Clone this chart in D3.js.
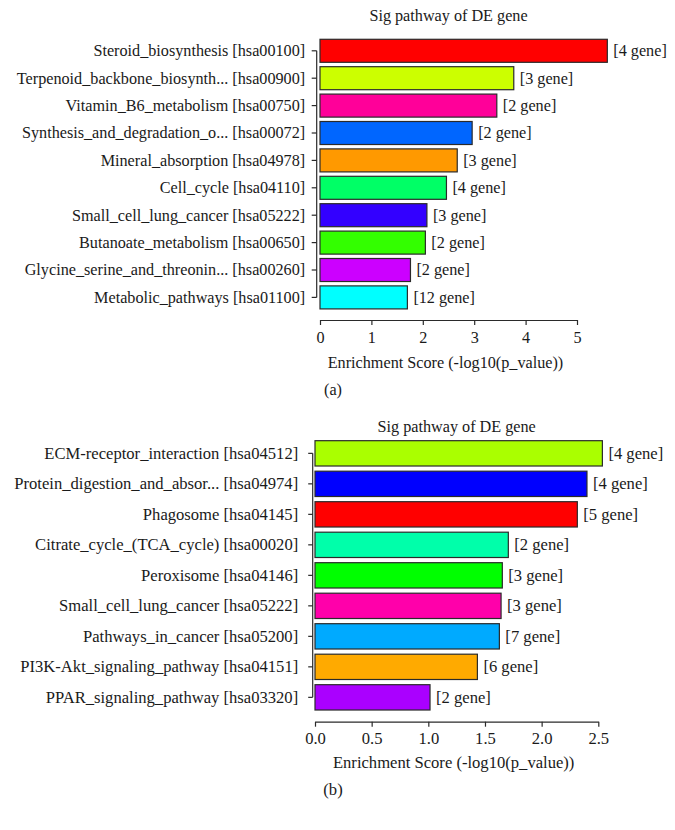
<!DOCTYPE html>
<html><head><meta charset="utf-8">
<script src="https://cdn.jsdelivr.net/npm/d3@7"></script>
<style>
body{margin:0;background:#fff;}
svg text{font-family:"Liberation Serif","Times New Roman",serif;fill:#1a1a1a;}
</style></head>
<body><svg id="c" width="675" height="830"></svg>
<script>
// Panel (a)
const catsA = ["Steroid_biosynthesis [hsa00100]","Terpenoid_backbone_biosynth... [hsa00900]","Vitamin_B6_metabolism [hsa00750]","Synthesis_and_degradation_o... [hsa00072]","Mineral_absorption [hsa04978]","Cell_cycle [hsa04110]","Small_cell_lung_cancer [hsa05222]","Butanoate_metabolism [hsa00650]","Glycine_serine_and_threonin... [hsa00260]","Metabolic_pathways [hsa01100]"];
const valsA = [5.59,3.77,3.44,2.96,2.67,2.46,2.08,2.05,1.76,1.70];
const genesA = [4,3,2,2,3,4,3,2,2,12];
const colorsA = ["#FF0000","#CCFF00","#FF0099","#0066FF","#FF9900","#00FF66","#3300FF","#33FF00","#CC00FF","#00FFFF"];
const ticksA = [0,1,2,3,4,5];
// Panel (b)
const catsB = ["ECM-receptor_interaction [hsa04512]","Protein_digestion_and_absor... [hsa04974]","Phagosome [hsa04145]","Citrate_cycle_(TCA_cycle) [hsa00020]","Peroxisome [hsa04146]","Small_cell_lung_cancer [hsa05222]","Pathways_in_cancer [hsa05200]","PI3K-Akt_signaling_pathway [hsa04151]","PPAR_signaling_pathway [hsa03320]"];
const valsB = [2.536,2.40,2.315,1.706,1.653,1.642,1.627,1.433,1.015];
const genesB = [4,4,5,2,3,3,7,6,2];
const colorsB = ["#AAFF00","#0000FF","#FF0000","#00FFAA","#00FF00","#FF00AA","#00AAFF","#FFAA00","#AA00FF"];
const ticksB = [0,0.5,1,1.5,2,2.5];

const title = "Sig pathway of DE gene";
const xTitle = "Enrichment Score (-log10(p_value))";

const svg = d3.select("#c");
const FF = '"Liberation Serif","Times New Roman",serif';

function panel(cfg){
  const FS = cfg.fs;
  const g = svg.append("g");
  const x = d3.scaleLinear().domain([cfg.ticks[0], cfg.ticks[cfg.ticks.length-1]]).range(cfg.xr);
  const y = d3.scaleBand().domain(cfg.cats).range(cfg.yr).paddingInner(cfg.pi).paddingOuter(cfg.pi/2);
  const data = cfg.cats.map((c,i)=>({c, v:cfg.vals[i], n:cfg.genes[i], col:cfg.colors[i]}));
  g.selectAll("rect.bar").data(data).join("rect")
    .attr("x", x(0)).attr("y", d=>y(d.c))
    .attr("width", d=>x(d.v)-x(0)).attr("height", y.bandwidth())
    .attr("fill", d=>d.col).attr("stroke","#2a2a2a").attr("stroke-width",1.2);
  g.selectAll("text.gn").data(data).join("text")
    .attr("x", d=>x(d.v)+6).attr("y", d=>y(d.c)+y.bandwidth()/2)
    .attr("dy","0.33em").attr("font-size",FS).text(d=>`[${d.n} gene]`);
  // y axis
  const ax = cfg.axisX;
  const first = y(cfg.cats[0])+y.bandwidth()/2, last = y(cfg.cats[cfg.cats.length-1])+y.bandwidth()/2;
  const ya = g.append("g").attr("transform",`translate(${ax},0)`)
    .call(d3.axisLeft(y).tickSize(cfg.ts).tickPadding(cfg.tp));
  ya.attr("font-family",FF);
  ya.select(".domain").remove();
  ya.append("line").attr("x1",0).attr("x2",0).attr("y1",first).attr("y2",last).attr("stroke","#2a2a2a").attr("stroke-width",1.2);
  ya.selectAll(".tick line").attr("stroke","#2a2a2a").attr("stroke-width",1.2);
  ya.selectAll(".tick text").attr("font-size",FS).attr("fill","#1a1a1a").attr("dy","0.33em");
  // x axis
  const xa = g.append("g").attr("transform",`translate(0,${cfg.axisY})`)
    .call(d3.axisBottom(x).tickValues(cfg.ticks).tickSize(5).tickSizeOuter(0).tickPadding(6).tickFormat(cfg.fmt));
  xa.attr("font-family",FF);
  xa.select(".domain").attr("stroke","#2a2a2a").attr("stroke-width",1.2);
  xa.selectAll(".tick line").attr("stroke","#2a2a2a").attr("stroke-width",1.2);
  xa.selectAll(".tick text").attr("font-size",FS).attr("fill","#1a1a1a");
  const cx = (cfg.xr[0]+cfg.xr[1])/2;
  g.append("text").attr("x",cx).attr("y",cfg.titleY).attr("text-anchor","middle").attr("font-size",16.2).text(title);
  g.append("text").attr("x",cx - 3).attr("y",cfg.xTitleY).attr("text-anchor","middle").attr("font-size",FS).text(xTitle);
  g.append("text").attr("x",333).attr("y",cfg.labY).attr("text-anchor","middle").attr("font-size",FS).text(cfg.lab);
}

panel({cats:catsA, vals:valsA, genes:genesA, colors:colorsA, ticks:ticksA, fmt:d3.format("d"), fs:16.2, ts:5, tp:6.5,
  xr:[320,577], yr:[37.1,311.1], pi:0.16, axisX:316.7, axisY:320, titleY:21, xTitleY:368, labY:395, lab:"(a)"});
panel({cats:catsB, vals:valsB, genes:genesB, colors:colorsB, ticks:ticksB, fmt:d3.format(".1f"), fs:16.6, ts:4.5, tp:10,
  xr:[315,598.3], yr:[438.1,712.6], pi:0.17, axisX:312.7, axisY:721.7, titleY:432, xTitleY:768, labY:795, lab:"(b)"});
</script></body></html>
